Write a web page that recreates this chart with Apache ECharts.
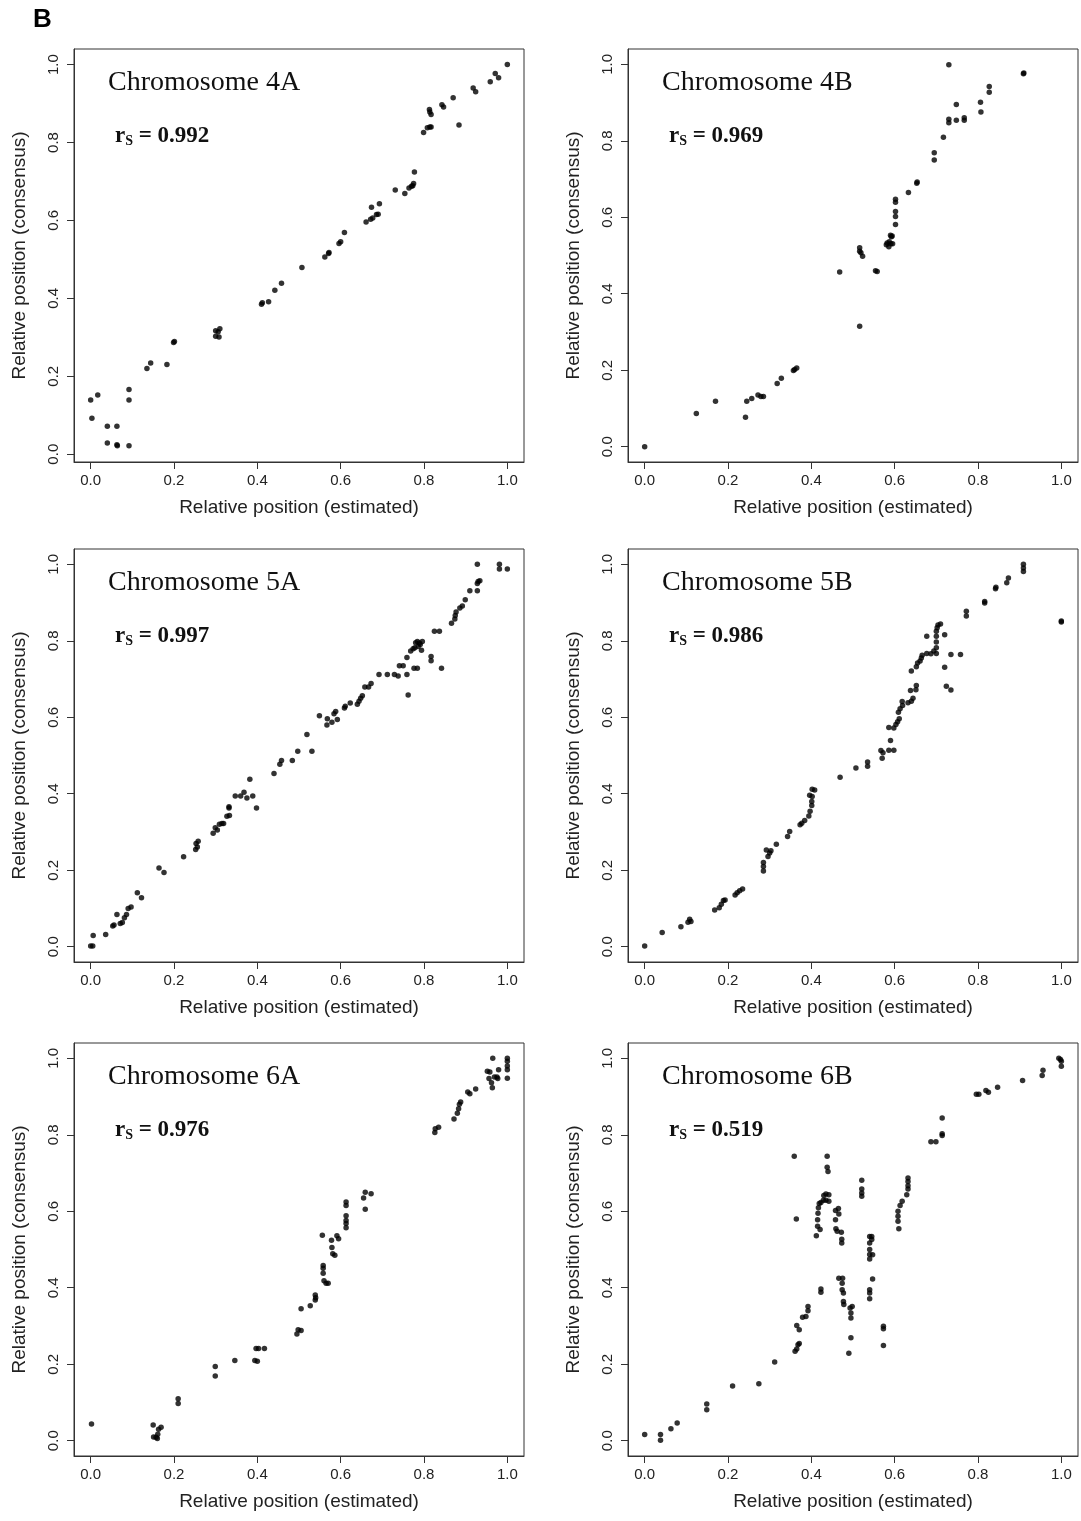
<!DOCTYPE html>
<html>
<head>
<meta charset="utf-8">
<script src="https://cdn.jsdelivr.net/npm/echarts@6/dist/echarts.min.js"></script>
<style>
  html, body { margin: 0; padding: 0; background: #fff; }
  #chart { width: 1081px; height: 1521px; }
</style>
</head>
<body>
<div id="chart"></div>
<script>
// [estimated, consensus] relative positions
var chr4A = [[0,0.139],[0.017,0.152],[0.003,0.092],[0.040,0.072],[0.063,0.072],[0.040,0.029],[0.063,0.024],[0.064,0.022],[0.092,0.022],[0.092,0.166],
  [0.092,0.139],[0.135,0.220],[0.144,0.234],[0.183,0.230],[0.199,0.287],[0.201,0.289],[0.300,0.303],[0.308,0.301],[0.300,0.317],[0.310,0.322],
  [0.306,0.314],[0.410,0.385],[0.412,0.389],[0.427,0.391],[0.442,0.421],[0.458,0.439],[0.507,0.479],[0.562,0.506],[0.571,0.515],[0.572,0.518],
  [0.596,0.541],[0.600,0.545],[0.609,0.569],[0.661,0.596],[0.674,0.634],[0.672,0.603],[0.677,0.606],[0.686,0.615],[0.690,0.616],[0.693,0.643],
  [0.731,0.678],[0.754,0.669],[0.764,0.683],[0.770,0.688],[0.775,0.695],[0.773,0.689],[0.777,0.724],[0.799,0.826],[0.808,0.838],[0.814,0.840],
  [0.817,0.840],[0.813,0.885],[0.814,0.878],[0.817,0.872],[0.843,0.897],[0.847,0.891],[0.870,0.915],[0.884,0.845],[0.918,0.940],[0.924,0.930],
  [0.959,0.956],[0.971,0.977],[0.979,0.966],[1.0,1.0]];

var chr4B = [[0,0],[0.124,0.087],[0.170,0.119],[0.242,0.077],[0.245,0.119],[0.257,0.126],[0.272,0.135],[0.279,0.131],[0.285,0.131],[0.318,0.165],
  [0.328,0.179],[0.357,0.199],[0.360,0.202],[0.365,0.206],[0.468,0.457],[0.516,0.315],[0.516,0.520],[0.516,0.511],[0.519,0.507],[0.523,0.498],
  [0.554,0.460],[0.558,0.458],[0.580,0.528],[0.582,0.533],[0.586,0.523],[0.587,0.536],[0.590,0.553],[0.592,0.549],[0.595,0.531],[0.591,0.531],
  [0.594,0.551],[0.602,0.581],[0.602,0.602],[0.602,0.615],[0.602,0.639],[0.602,0.647],[0.633,0.665],[0.653,0.689],[0.654,0.692],[0.695,0.750],
  [0.695,0.769],[0.717,0.809],[0.730,0.999],[0.730,0.847],[0.730,0.856],[0.748,0.854],[0.748,0.895],[0.767,0.854],[0.767,0.860],[0.806,0.901],
  [0.807,0.875],[0.827,0.927],[0.827,0.942],[0.909,0.975],[0.910,0.977]];

var chr5A = [[0,0.002],[0.005,0.002],[0.006,0.029],[0.036,0.032],[0.053,0.054],[0.056,0.057],[0.063,0.084],[0.071,0.061],[0.076,0.063],[0.081,0.076],
  [0.086,0.084],[0.090,0.100],[0.097,0.104],[0.112,0.141],[0.122,0.128],[0.164,0.206],[0.176,0.194],[0.223,0.235],[0.252,0.254],[0.253,0.270],
  [0.258,0.276],[0.256,0.261],[0.294,0.297],[0.299,0.311],[0.304,0.305],[0.309,0.320],[0.315,0.322],[0.319,0.322],[0.327,0.341],[0.333,0.343],
  [0.332,0.363],[0.332,0.366],[0.347,0.394],[0.360,0.394],[0.368,0.404],[0.375,0.389],[0.382,0.438],[0.389,0.394],[0.398,0.363],[0.440,0.453],
  [0.454,0.477],[0.458,0.487],[0.484,0.487],[0.497,0.511],[0.519,0.555],[0.531,0.511],[0.549,0.604],[0.567,0.580],[0.568,0.596],[0.579,0.587],
  [0.584,0.609],[0.588,0.615],[0.592,0.594],[0.609,0.624],[0.611,0.629],[0.623,0.637],[0.640,0.634],[0.644,0.642],[0.648,0.650],[0.652,0.656],
  [0.658,0.679],[0.667,0.679],[0.673,0.688],[0.692,0.712],[0.712,0.712],[0.729,0.712],[0.738,0.708],[0.741,0.735],[0.750,0.735],[0.759,0.756],
  [0.759,0.712],[0.762,0.658],[0.768,0.773],[0.774,0.779],[0.778,0.782],[0.776,0.728],[0.784,0.728],[0.780,0.795],[0.784,0.798],[0.789,0.794],
  [0.794,0.775],[0.796,0.798],[0.786,0.785],[0.791,0.790],[0.817,0.759],[0.817,0.748],[0.842,0.728],[0.825,0.825],[0.837,0.825],[0.866,0.846],
  [0.874,0.857],[0.875,0.866],[0.877,0.875],[0.886,0.886],[0.892,0.891],[0.899,0.907],[0.910,0.931],[0.928,0.931],[0.928,0.950],[0.930,0.955],
  [0.934,0.957],[0.928,1.0],[0.981,1.0],[0.981,0.988],[1.0,0.988]];

var chr5B = [[0,0.002],[0.042,0.037],[0.087,0.052],[0.104,0.064],[0.108,0.072],[0.111,0.066],[0.168,0.096],[0.179,0.102],[0.184,0.111],[0.189,0.121],
  [0.193,0.122],[0.217,0.135],[0.222,0.141],[0.228,0.146],[0.235,0.151],[0.285,0.198],[0.285,0.210],[0.285,0.220],[0.292,0.253],[0.296,0.236],
  [0.300,0.245],[0.303,0.251],[0.316,0.268],[0.343,0.288],[0.348,0.301],[0.373,0.319],[0.377,0.323],[0.384,0.330],[0.394,0.342],[0.397,0.354],
  [0.396,0.396],[0.401,0.369],[0.401,0.380],[0.402,0.412],[0.408,0.410],[0.402,0.393],[0.469,0.443],[0.507,0.467],[0.535,0.483],[0.535,0.472],
  [0.567,0.513],[0.570,0.493],[0.572,0.507],[0.586,0.514],[0.598,0.514],[0.590,0.539],[0.586,0.573],[0.598,0.572],[0.603,0.581],[0.607,0.588],
  [0.611,0.596],[0.609,0.613],[0.613,0.622],[0.618,0.641],[0.619,0.631],[0.632,0.638],[0.640,0.642],[0.644,0.650],[0.638,0.670],[0.651,0.672],
  [0.652,0.683],[0.640,0.721],[0.652,0.732],[0.655,0.742],[0.661,0.747],[0.664,0.755],[0.666,0.762],[0.677,0.767],[0.677,0.812],[0.687,0.766],
  [0.694,0.773],[0.700,0.767],[0.700,0.782],[0.700,0.797],[0.700,0.812],[0.700,0.825],[0.702,0.834],[0.704,0.841],[0.710,0.844],[0.720,0.816],
  [0.720,0.731],[0.724,0.681],[0.735,0.671],[0.735,0.764],[0.758,0.764],[0.772,0.865],[0.772,0.877],[0.816,0.899],[0.816,0.903],[0.842,0.936],
  [0.843,0.940],[0.869,0.952],[0.873,0.964],[0.909,1.0],[0.909,0.990],[0.909,0.981],[1.0,0.849],[1.0,0.852]];

var chr6A = [[0.002,0.044],[0.150,0.041],[0.151,0.010],[0.157,0.009],[0.160,0.006],[0.161,0.017],[0.163,0.030],[0.169,0.035],[0.210,0.110],[0.210,0.097],
  [0.299,0.194],[0.299,0.169],[0.346,0.210],[0.394,0.210],[0.400,0.208],[0.397,0.241],[0.403,0.241],[0.417,0.241],[0.495,0.279],[0.498,0.290],
  [0.505,0.288],[0.505,0.345],[0.527,0.353],[0.539,0.368],[0.539,0.381],[0.540,0.374],[0.556,0.537],[0.558,0.458],[0.558,0.451],[0.558,0.438],
  [0.560,0.418],[0.565,0.412],[0.570,0.412],[0.578,0.524],[0.579,0.505],[0.581,0.489],[0.586,0.485],[0.591,0.536],[0.595,0.528],[0.613,0.624],
  [0.613,0.615],[0.613,0.588],[0.613,0.576],[0.613,0.568],[0.613,0.557],[0.655,0.635],[0.659,0.650],[0.659,0.605],[0.673,0.646],[0.826,0.806],
  [0.827,0.816],[0.835,0.820],[0.872,0.841],[0.880,0.856],[0.883,0.868],[0.885,0.880],[0.888,0.886],[0.905,0.912],[0.910,0.907],[0.924,0.920],
  [0.952,0.966],[0.958,0.964],[0.956,0.947],[0.962,0.936],[0.964,0.923],[0.965,1.0],[0.969,0.951],[0.975,0.951],[0.979,0.970],[0.977,0.947],
  [1.0,1.0],[1.0,0.992],[1.0,0.980],[1.0,0.970],[1.0,0.948]];

var chr6B = [[0,0.016],[0.038,0.016],[0.038,0.001],[0.063,0.031],[0.078,0.046],[0.149,0.096],[0.149,0.081],[0.211,0.143],[0.274,0.149],[0.312,0.206],
  [0.361,0.234],[0.365,0.240],[0.368,0.251],[0.371,0.254],[0.365,0.301],[0.371,0.290],[0.359,0.744],[0.364,0.580],[0.379,0.323],[0.387,0.325],
  [0.392,0.340],[0.392,0.351],[0.412,0.536],[0.415,0.561],[0.415,0.578],[0.416,0.595],[0.417,0.609],[0.419,0.620],[0.423,0.623],[0.421,0.552],
  [0.423,0.397],[0.423,0.388],[0.429,0.629],[0.430,0.641],[0.435,0.629],[0.435,0.645],[0.438,0.744],[0.438,0.715],[0.440,0.704],[0.442,0.643],
  [0.442,0.626],[0.458,0.602],[0.458,0.578],[0.459,0.554],[0.462,0.548],[0.465,0.607],[0.466,0.593],[0.466,0.425],[0.472,0.545],[0.473,0.527],
  [0.473,0.517],[0.475,0.425],[0.474,0.412],[0.474,0.395],[0.477,0.386],[0.477,0.364],[0.478,0.356],[0.490,0.229],[0.493,0.347],[0.495,0.334],
  [0.495,0.321],[0.495,0.269],[0.498,0.351],[0.521,0.681],[0.521,0.658],[0.521,0.648],[0.521,0.639],[0.540,0.534],[0.540,0.517],[0.540,0.500],
  [0.540,0.487],[0.540,0.475],[0.545,0.534],[0.545,0.526],[0.547,0.486],[0.540,0.395],[0.540,0.386],[0.540,0.371],[0.547,0.423],[0.573,0.299],
  [0.573,0.293],[0.573,0.249],[0.608,0.600],[0.608,0.587],[0.608,0.574],[0.610,0.554],[0.613,0.615],[0.618,0.626],[0.629,0.643],[0.632,0.658],
  [0.632,0.667],[0.632,0.678],[0.632,0.687],[0.687,0.782],[0.699,0.782],[0.714,0.798],[0.714,0.803],[0.714,0.844],[0.796,0.906],[0.802,0.906],
  [0.819,0.916],[0.825,0.911],[0.847,0.924],[0.907,0.942],[0.956,0.969],[0.954,0.955],[0.994,1.0],[0.998,0.997],[1.0,0.992],[1.0,0.979]];

var titles = ['Chromosome 4A', 'Chromosome 4B', 'Chromosome 5A', 'Chromosome 5B', 'Chromosome 6A', 'Chromosome 6B'];
var rsValues = ['0.992', '0.969', '0.997', '0.986', '0.976', '0.519'];
var tickValues = [0, 0.2, 0.4, 0.6, 0.8, 1.0];
var panelData = [chr4A, chr4B, chr5A, chr5B, chr6A, chr6B];
var yMins = [-0.02, -0.04, -0.04, -0.04, -0.04, -0.04];

var chart = echarts.init(document.getElementById('chart'));

// box positions (px)
var colLeft = [74, 628];
var rowTop = [49, 549, 1043];
var boxW = 450, boxH = 413;
var sans = '"Liberation Sans", Arial, sans-serif';
var serif = '"Liberation Serif", "Times New Roman", serif';

var grid = [], xAxis = [], yAxis = [], series = [];
var graphic = [{
  type: 'text', x: 33, y: 20,
  style: { text: 'B', font: 'bold 26px ' + sans, fill: '#000', verticalAlign: 'middle' }
}];

panelData.forEach(function (pts, i) {
  var l = colLeft[i % 2], t = rowTop[Math.floor(i / 2)];
  grid.push({
    left: l, top: t, width: boxW, height: boxH,
    show: true, borderColor: '#333', borderWidth: 1, backgroundColor: 'transparent'
  });
  xAxis.push({
    gridIndex: i, type: 'value', position: 'bottom', min: -0.04, max: 1.04,
    axisLine: { show: true, onZero: false, lineStyle: { color: '#333', width: 1 } },
    splitLine: { show: false },
    axisTick: { show: true, customValues: tickValues, length: 7, lineStyle: { color: '#333', width: 1 } },
    axisLabel: {
      customValues: tickValues, margin: 11, fontSize: 15, color: '#222', fontFamily: sans,
      formatter: function (v) { return v.toFixed(1); }
    },
    name: 'Relative position (estimated)', nameLocation: 'middle', nameGap: 36,
    nameTextStyle: { fontSize: 19, color: '#222', fontFamily: sans }
  });
  yAxis.push({
    gridIndex: i, type: 'value', position: 'left', min: yMins[i], max: 1.04,
    axisLine: { show: true, onZero: false, lineStyle: { color: '#333', width: 1 } },
    splitLine: { show: false },
    axisTick: { show: true, customValues: tickValues, length: 7, lineStyle: { color: '#333', width: 1 } },
    axisLabel: {
      customValues: tickValues, rotate: 90, margin: 13, fontSize: 15, color: '#222', fontFamily: sans,
      formatter: function (v) { return v.toFixed(1); }
    },
    name: 'Relative position (consensus)', nameLocation: 'middle', nameRotate: 90, nameGap: 45,
    nameTextStyle: { fontSize: 19, color: '#222', fontFamily: sans }
  });
  series.push({
    type: 'scatter', xAxisIndex: i, yAxisIndex: i,
    symbol: 'circle', symbolSize: 5.5,
    itemStyle: { color: '#000' },
    data: pts
  });
  graphic.push({
    type: 'text', x: l + 34, y: t + 33.5,
    style: { text: titles[i], font: '28px ' + serif, fill: '#111', verticalAlign: 'middle' }
  });
  graphic.push({
    type: 'text', x: l + 41, y: t + 76,
    style: {
      text: '{r|r}{s|S}{v| = ' + rsValues[i] + '}',
      verticalAlign: 'top',
      rich: {
        r: { fontFamily: serif, fontWeight: 'bold', fontSize: 23, lineHeight: 23, fill: '#111' },
        s: { fontFamily: serif, fontWeight: 'bold', fontSize: 14, lineHeight: 10, verticalAlign: 'bottom', fill: '#111' },
        v: { fontFamily: serif, fontWeight: 'bold', fontSize: 23, lineHeight: 23, fill: '#111' }
      }
    }
  });
});

chart.setOption({
  animation: false,
  backgroundColor: '#fff',
  grid: grid,
  xAxis: xAxis,
  yAxis: yAxis,
  series: series,
  graphic: graphic
});
</script>
</body>
</html>
